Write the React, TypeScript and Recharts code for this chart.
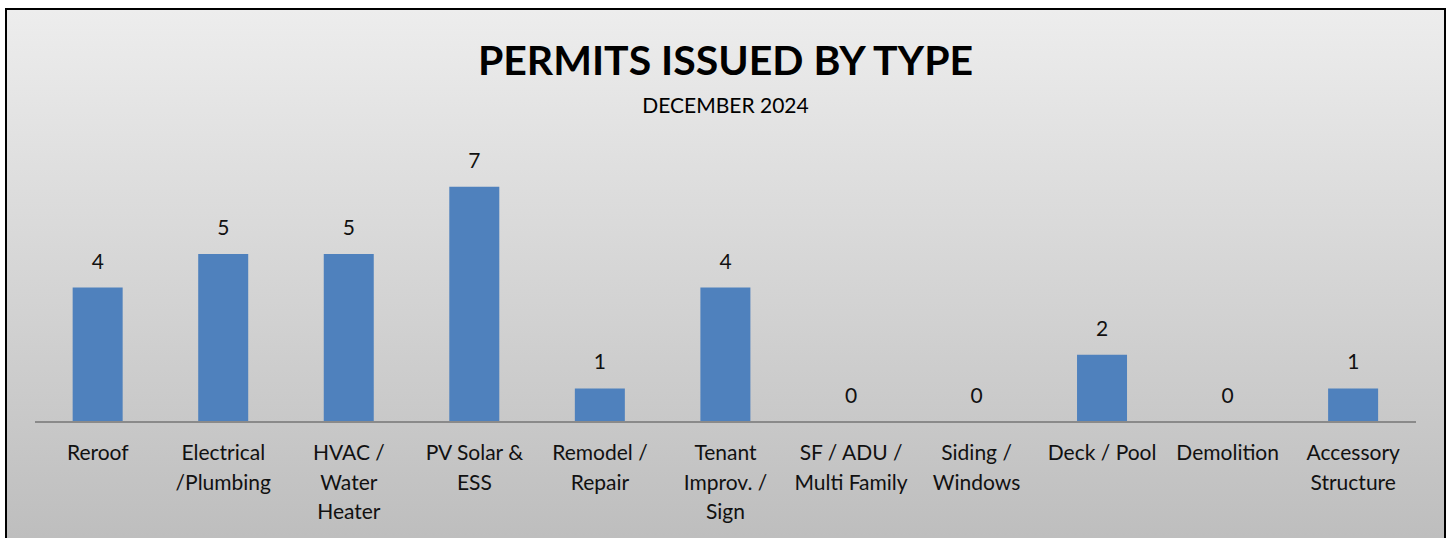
import React from 'react';
import { ComposedChart, Bar, Line, XAxis, YAxis, LabelList } from 'recharts';

const categories = [
  'Reroof',
  'Electrical\n/Plumbing',
  'HVAC /\nWater\nHeater',
  'PV Solar &\nESS',
  'Remodel /\nRepair',
  'Tenant\nImprov. /\nSign',
  'SF / ADU /\nMulti Family',
  'Siding /\nWindows',
  'Deck / Pool',
  'Demolition',
  'Accessory\nStructure',
];
const permits = [4, 5, 5, 7, 1, 4, 0, 0, 2, 0, 1];

const data = categories.map((name, i) => ({ name, permits: permits[i] }));

const FONT = 'Lato, "Open Sans", sans-serif';

const CategoryTick = (props: any) => {
  const { x, y, payload } = props;
  const lines = String(payload.value).split('\n');
  return (
    <text x={x} y={y} textAnchor="middle" fill="#111" fontSize={21} fontFamily={FONT}>
      {lines.map((line, i) => (
        <tspan key={i} x={x} dy={i === 0 ? 30 : 29.5}>
          {line}
        </tspan>
      ))}
    </text>
  );
};

const App: React.FC = () => {
  return (
    <div
      style={{
        position: 'absolute',
        left: 5,
        top: 8,
        width: 1437,
        height: 560,
        border: '2px solid #000',
        background: 'linear-gradient(to bottom, #ededed 0%, #bbbbbb 100%)',
        overflow: 'hidden',
        fontFamily: FONT,
      }}
    >
      <div
        style={{
          position: 'absolute',
          top: 25,
          left: 0,
          width: '100%',
          textAlign: 'center',
          fontSize: 41,
          fontWeight: 700,
          color: '#000',
        }}
      >
        PERMITS ISSUED BY TYPE
      </div>
      <div
        style={{
          position: 'absolute',
          top: 82,
          left: 0,
          width: '100%',
          textAlign: 'center',
          fontSize: 21,
          color: '#000',
        }}
      >
        DECEMBER 2024
      </div>
      <div style={{ position: 'absolute', left: 0, top: 0 }}>
        <ComposedChart
          width={1437}
          height={530}
          data={data}
          margin={{ top: 143, right: 28, bottom: 58, left: 28 }}
          barCategoryGap="30%"
        >
          <XAxis
            dataKey="name"
            interval={0}
            tickLine={false}
            axisLine={{ stroke: '#8a8a8a', strokeWidth: 2 }}
            tick={<CategoryTick />}
            height={60}
          />
          <YAxis hide domain={[0, 8]} />
          <Bar dataKey="permits" fill="#4f81bd" isAnimationActive={false} />
          <Line
            dataKey="permits"
            stroke="none"
            dot={false}
            activeDot={false}
            legendType="none"
            isAnimationActive={false}
          >
            <LabelList
              dataKey="permits"
              position="top"
              offset={19}
              fill="#111"
              fontSize={21}
              fontFamily={FONT}
            />
          </Line>
        </ComposedChart>
      </div>
    </div>
  );
};

export default App;
